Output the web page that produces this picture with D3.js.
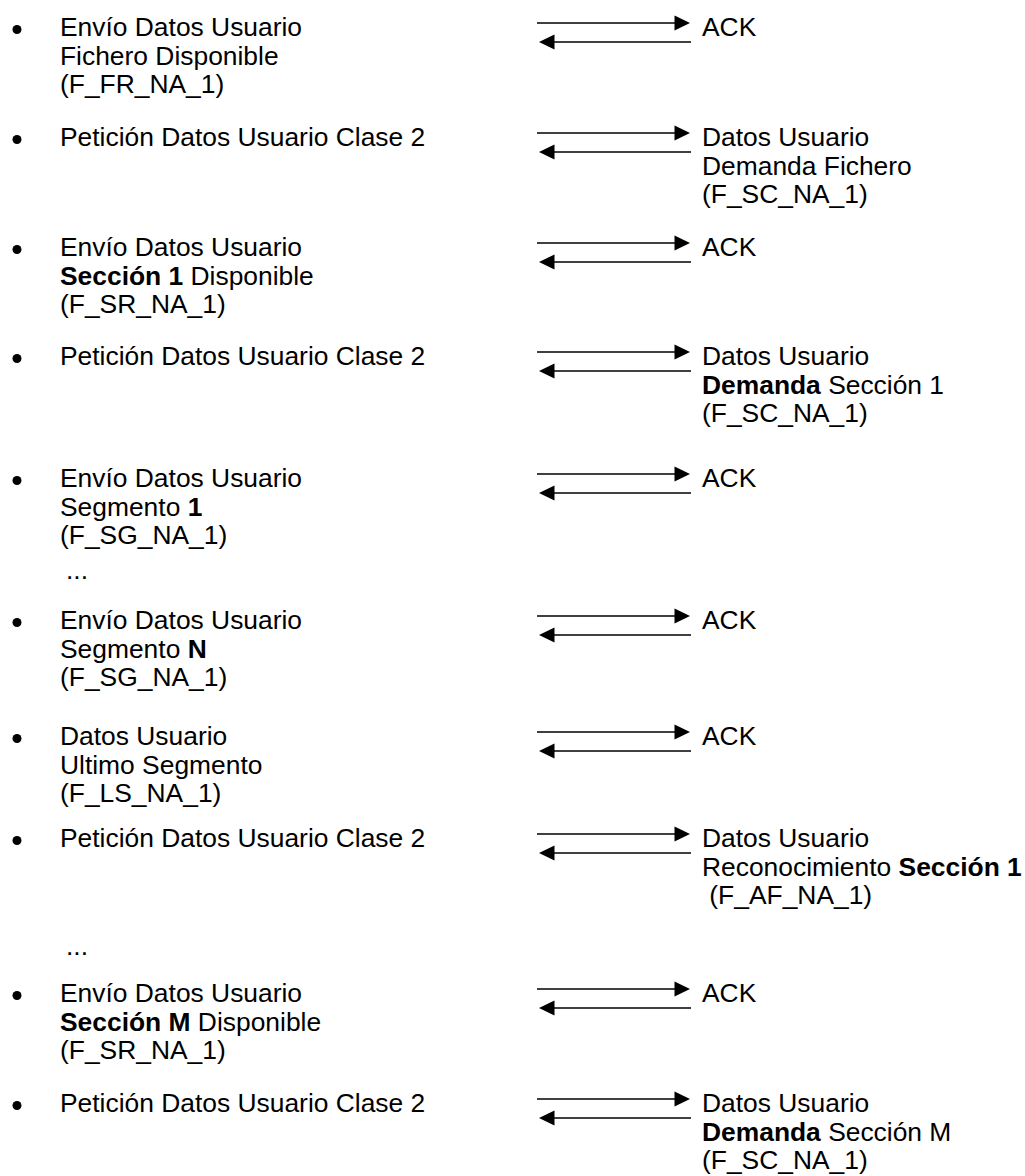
<!DOCTYPE html>
<html>
<head>
<meta charset="utf-8">
<script src="https://cdn.jsdelivr.net/npm/d3@7"></script>
<style>
  html, body { margin: 0; padding: 0; background: #fff; }
  svg { display: block; }
  text { font-family: "Liberation Sans", Arial, sans-serif; fill: #000; }
</style>
</head>
<body>
<svg id="chart" width="1025" height="1176"></svg>
<script>
// ---------- DATA ----------
// Requests sent by the master (left column), bold parts marked with **...**
const requests = [
  ["Envío Datos Usuario", "Fichero Disponible", "(F_FR_NA_1)"],
  ["Petición Datos Usuario Clase 2"],
  ["Envío Datos Usuario", "**Sección 1** Disponible", "(F_SR_NA_1)"],
  ["Petición Datos Usuario Clase 2"],
  ["Envío Datos Usuario", "Segmento **1**", "(F_SG_NA_1)"],
  ["Envío Datos Usuario", "Segmento **N**", "(F_SG_NA_1)"],
  ["Datos Usuario", "Ultimo Segmento", "(F_LS_NA_1)"],
  ["Petición Datos Usuario Clase 2"],
  ["Envío Datos Usuario", "**Sección M** Disponible", "(F_SR_NA_1)"],
  ["Petición Datos Usuario Clase 2"]
];
// Replies (right column)
const replies = [
  ["ACK"],
  ["Datos Usuario", "Demanda Fichero", "(F_SC_NA_1)"],
  ["ACK"],
  ["Datos Usuario", "**Demanda** Sección 1", "(F_SC_NA_1)"],
  ["ACK"],
  ["ACK"],
  ["ACK"],
  ["Datos Usuario", "Reconocimiento **Sección 1**", " (F_AF_NA_1)"],
  ["ACK"],
  ["Datos Usuario", "**Demanda** Sección M", "(F_SC_NA_1)"]
];
// Ellipsis markers: placed after these step indices
const ellipsisAfter = [4, 7];
const ellipsisText = "...";

// ---------- LAYOUT ----------
const rowBaselines = [36, 146, 256, 365, 487, 629, 745, 847, 1002, 1112];
const ellipsisBaselines = [579, 955];
const lineH = 28.6;
const fontSize = 26.4;

const yStep = d3.scaleLinear()
  .domain(d3.range(rowBaselines.length))
  .range(rowBaselines);
const yLine = d3.scaleLinear().domain([0, 1]).range([0, lineH]);

const xCol = d3.scaleOrdinal()
  .domain(["bullet", "left", "arrowStart", "arrowEnd", "right", "dots"])
  .range([17, 60, 538, 690, 702, 66]);

const svg = d3.select("#chart");

function parseRich(str) {
  const parts = str.split("**");
  return parts.map((t, i) => ({ t, bold: i % 2 === 1 })).filter(p => p.t.length);
}

function drawLines(g, lines, x, y0) {
  lines.forEach((ln, i) => {
    const txt = g.append("text")
      .attr("x", x)
      .attr("y", y0 + yLine(i))
      .attr("font-size", fontSize)
      .attr("xml:space", "preserve")
      .style("white-space", "pre");
    parseRich(ln).forEach(p => {
      txt.append("tspan")
        .attr("font-weight", p.bold ? "bold" : "normal")
        .text(p.t);
    });
  });
}

const headL = 15.5, headH = 7.5;

function arrow(g, xFrom, xTo, y) {
  const dir = Math.sign(xTo - xFrom);
  g.append("line")
    .attr("x1", xFrom).attr("x2", xTo - dir * headL + dir)
    .attr("y1", y).attr("y2", y)
    .attr("stroke", "#000").attr("stroke-width", 1.5);
  const p = d3.path();
  p.moveTo(xTo, y);
  p.lineTo(xTo - dir * headL, y - headH);
  p.lineTo(xTo - dir * headL, y + headH);
  p.closePath();
  g.append("path").attr("d", p.toString()).attr("fill", "#000");
}

const steps = svg.selectAll("g.step")
  .data(requests.map((r, i) => ({ req: r, rep: replies[i], i })))
  .join("g").attr("class", "step");

steps.each(function (d) {
  const g = d3.select(this);
  const y = yStep(d.i);
  g.append("circle")
    .attr("cx", xCol("bullet"))
    .attr("cy", y - 6.5)
    .attr("r", 4.5)
    .attr("fill", "#000");
  drawLines(g, d.req, xCol("left"), y);
  arrow(g, xCol("arrowStart") - 1, xCol("arrowEnd"), y - 13);
  arrow(g, xCol("arrowEnd") + 1, xCol("arrowStart") + 1, y + 6);
  drawLines(g, d.rep, xCol("right"), y);
});

svg.selectAll("text.dots")
  .data(ellipsisAfter)
  .join("text")
  .attr("class", "dots")
  .attr("x", xCol("dots"))
  .attr("y", (d, i) => ellipsisBaselines[i])
  .attr("font-size", fontSize)
  .text(ellipsisText);
</script>
</body>
</html>
